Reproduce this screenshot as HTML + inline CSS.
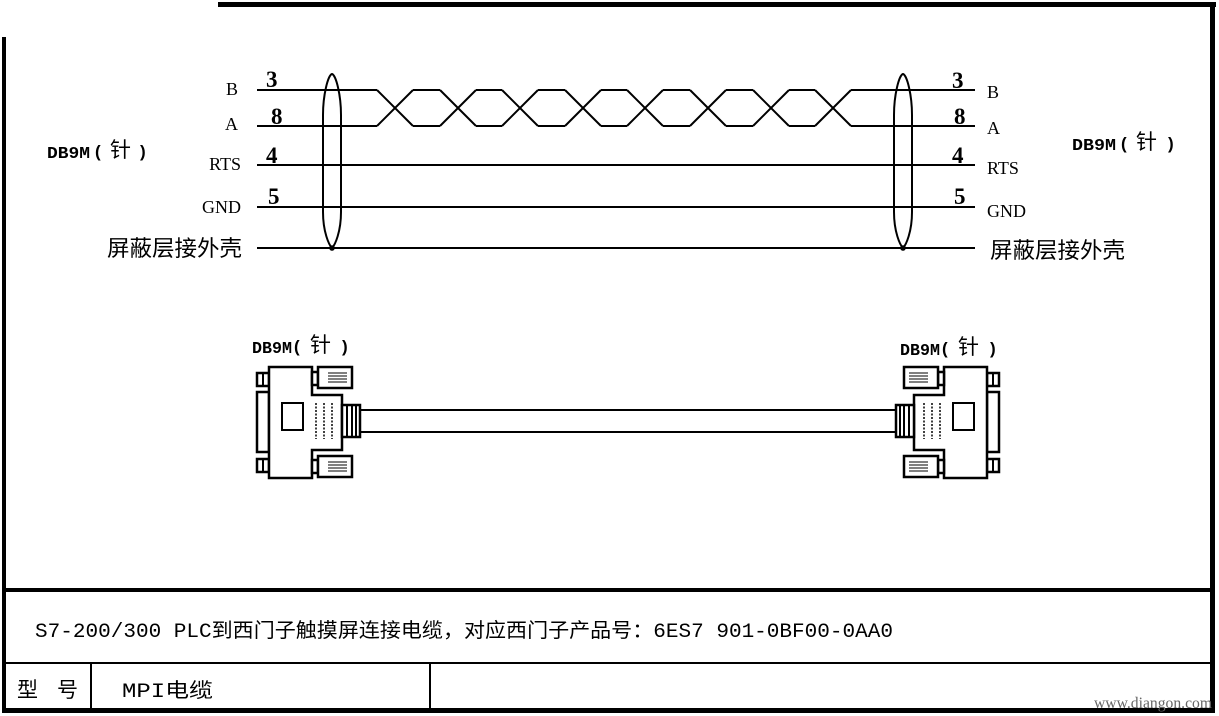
<!DOCTYPE html>
<html>
<head>
<meta charset="utf-8">
<style>
html,body{margin:0;padding:0;background:#fff;}
svg{display:block;}
.cjk{font-family:"Liberation Sans","Noto Sans CJK SC",sans-serif;}
.mono{font-family:"Liberation Mono","Noto Sans CJK SC",monospace;}
.serif{font-family:"Liberation Serif","Noto Serif CJK SC",serif;}
.lab{font-family:"Liberation Mono","Noto Sans CJK SC",monospace;font-weight:bold;}
.par{font-family:"Liberation Sans",sans-serif;font-weight:bold;}
</style>
</head>
<body>
<svg width="1219" height="716" viewBox="0 0 1219 716" xmlns="http://www.w3.org/2000/svg">
<rect x="0" y="0" width="1219" height="716" fill="#fff"/>

<!-- frame -->
<rect x="218" y="2" width="998" height="5" fill="#000"/>
<rect x="2" y="37" width="4" height="676" fill="#000"/>
<rect x="1210" y="2" width="5" height="711" fill="#000"/>
<rect x="2" y="708" width="1213" height="5" fill="#000"/>
<rect x="2" y="588" width="1213" height="4" fill="#000"/>
<rect x="2" y="662" width="1213" height="2" fill="#000"/>
<rect x="90" y="663" width="2" height="46" fill="#000"/>
<rect x="429" y="663" width="2" height="46" fill="#000"/>

<!-- wires -->
<g stroke="#000" stroke-width="2" fill="none">
  <line x1="257" y1="90" x2="377" y2="90"/>
  <line x1="257" y1="126" x2="377" y2="126"/>
  <path d="M377,90 L413,126 M377,126 L413,90
           M413,90 H440 M413,126 H440
           M440,90 L476,126 M440,126 L476,90
           M476,90 H502 M476,126 H502
           M502,90 L538,126 M502,126 L538,90
           M538,90 H565 M538,126 H565
           M565,90 L601,126 M565,126 L601,90
           M601,90 H627 M601,126 H627
           M627,90 L663,126 M627,126 L663,90
           M663,90 H690 M663,126 H690
           M690,90 L726,126 M690,126 L726,90
           M726,90 H753 M726,126 H753
           M753,90 L789,126 M753,126 L789,90
           M789,90 H815 M789,126 H815
           M815,90 L851,126 M815,126 L851,90"/>
  <line x1="851" y1="90" x2="975" y2="90"/>
  <line x1="851" y1="126" x2="975" y2="126"/>
  <line x1="257" y1="165" x2="975" y2="165"/>
  <line x1="257" y1="207" x2="975" y2="207"/>
  <line x1="257" y1="248" x2="975" y2="248"/>
</g>

<!-- shield ellipses -->
<g stroke="#000" stroke-width="2" fill="none">
  <path d="M332,74 C336,75 341,95 341,115 L341,212 C341,232 335,245 332,248 C329,245 323,232 323,212 L323,115 C323,95 328,75 332,74 Z"/>
  <path d="M903,74 C907,75 912,95 912,115 L912,212 C912,232 906,245 903,248 C900,245 894,232 894,212 L894,115 C894,95 899,75 903,74 Z"/>
</g>
<circle cx="332" cy="248" r="2.8" fill="#000"/>
<circle cx="903" cy="248" r="2.8" fill="#000"/>

<!-- left labels -->
<g class="serif" font-size="18" fill="#000" text-anchor="end">
  <text x="238" y="95">B</text>
  <text x="238" y="130">A</text>
  <text x="241" y="170">RTS</text>
  <text x="241" y="213">GND</text>
</g>
<g class="serif" font-size="18" fill="#000">
  <text x="987" y="98">B</text>
  <text x="987" y="134">A</text>
  <text x="987" y="174">RTS</text>
  <text x="987" y="217">GND</text>
</g>

<!-- pin numbers -->
<g class="serif" font-size="23" font-weight="bold" fill="#000">
  <text x="266" y="87">3</text>
  <text x="271" y="124">8</text>
  <text x="266" y="163">4</text>
  <text x="268" y="204">5</text>
  <text x="952" y="88">3</text>
  <text x="954" y="124">8</text>
  <text x="952" y="163">4</text>
  <text x="954" y="204">5</text>
</g>

<!-- shield labels -->
<text class="cjk" x="107" y="256" font-size="22" textLength="135" lengthAdjust="spacingAndGlyphs" fill="#000">屏蔽层接外壳</text>
<text class="cjk" x="990" y="258" font-size="22" textLength="135" lengthAdjust="spacingAndGlyphs" fill="#000">屏蔽层接外壳</text>

<!-- DB9M labels -->
<g fill="#000">
  <!-- left top -->
  <text class="lab" x="47" y="158" font-size="17" textLength="43" lengthAdjust="spacingAndGlyphs">DB9M</text>
  <text class="par" x="95" y="157" font-size="17">(</text>
  <text class="cjk" x="110" y="157" font-size="21">针</text>
  <text class="par" x="140" y="157" font-size="17">)</text>
  <!-- right top -->
  <text class="lab" x="1072" y="150" font-size="17" textLength="44" lengthAdjust="spacingAndGlyphs">DB9M</text>
  <text class="par" x="1121" y="149" font-size="17">(</text>
  <text class="cjk" x="1136" y="149" font-size="21">针</text>
  <text class="par" x="1168" y="149" font-size="17">)</text>
  <!-- left connector -->
  <text class="lab" x="252" y="353" font-size="17" textLength="40" lengthAdjust="spacingAndGlyphs">DB9M</text>
  <text class="par" x="294" y="352" font-size="17">(</text>
  <text class="cjk" x="310" y="352" font-size="21">针</text>
  <text class="par" x="342" y="352" font-size="17">)</text>
  <!-- right connector -->
  <text class="lab" x="900" y="355" font-size="17" textLength="40" lengthAdjust="spacingAndGlyphs">DB9M</text>
  <text class="par" x="942" y="354" font-size="17">(</text>
  <text class="cjk" x="958" y="354" font-size="21">针</text>
  <text class="par" x="990" y="354" font-size="17">)</text>
</g>

<!-- cable -->
<g stroke="#000" stroke-width="2">
  <line x1="358" y1="410" x2="898" y2="410"/>
  <line x1="358" y1="432" x2="898" y2="432"/>
</g>

<!-- connector -->
<defs>
<g id="conn">
  <g stroke="#000" fill="#fff" stroke-width="2.5">
    <rect x="257" y="373" width="12" height="13"/>
    <rect x="257" y="459" width="12" height="13"/>
    <rect x="257" y="392" width="12" height="60"/>
    <path d="M269,367 H312 V395 H342 V450 H312 V478 H269 Z"/>
    <rect x="312" y="372" width="6" height="13"/>
    <rect x="318" y="367" width="34" height="21"/>
    <rect x="312" y="460" width="6" height="13"/>
    <rect x="318" y="456" width="34" height="21"/>
    <rect x="342" y="405" width="18" height="32"/>
  </g>
  <g stroke="#000" stroke-width="2" fill="none">
    <line x1="263" y1="374" x2="263" y2="385"/>
    <line x1="263" y1="460" x2="263" y2="471"/>
    <rect x="282" y="403" width="21" height="27"/>
  </g>
  <g stroke="#000" stroke-width="1.5" stroke-dasharray="2 1.5">
    <line x1="316" y1="403" x2="316" y2="439"/>
    <line x1="324" y1="403" x2="324" y2="439"/>
    <line x1="332" y1="403" x2="332" y2="439"/>
  </g>
  <g stroke="#000" stroke-width="1">
    <line x1="328" y1="373" x2="347" y2="373"/>
    <line x1="328" y1="376" x2="347" y2="376"/>
    <line x1="328" y1="379" x2="347" y2="379"/>
    <line x1="328" y1="382" x2="347" y2="382"/>
    <line x1="328" y1="462" x2="347" y2="462"/>
    <line x1="328" y1="465" x2="347" y2="465"/>
    <line x1="328" y1="468" x2="347" y2="468"/>
    <line x1="328" y1="471" x2="347" y2="471"/>
  </g>
  <g stroke="#000" stroke-width="2">
    <line x1="347" y1="406" x2="347" y2="436"/>
    <line x1="352" y1="406" x2="352" y2="436"/>
    <line x1="356" y1="406" x2="356" y2="436"/>
  </g>
</g>
</defs>
<use href="#conn"/>
<use href="#conn" transform="translate(1256,0) scale(-1,1)"/>

<!-- bottom texts -->
<text class="mono" x="35" y="637" font-size="20" textLength="858" lengthAdjust="spacingAndGlyphs" fill="#000">S7-200/300 PLC到西门子触摸屏连接电缆，对应西门子产品号：6ES7 901-0BF00-0AA0</text>
<text class="cjk" x="17" y="697" font-size="21" fill="#000">型</text>
<text class="cjk" x="57" y="697" font-size="21" fill="#000">号</text>
<text class="mono" x="122" y="697" font-size="20" textLength="91" lengthAdjust="spacingAndGlyphs" fill="#000">MPI电缆</text>

<!-- watermark -->
<text class="serif" x="1094" y="708" font-size="16" textLength="118" lengthAdjust="spacingAndGlyphs" fill="#666">www.diangon.com</text>
</svg>
</body>
</html>
